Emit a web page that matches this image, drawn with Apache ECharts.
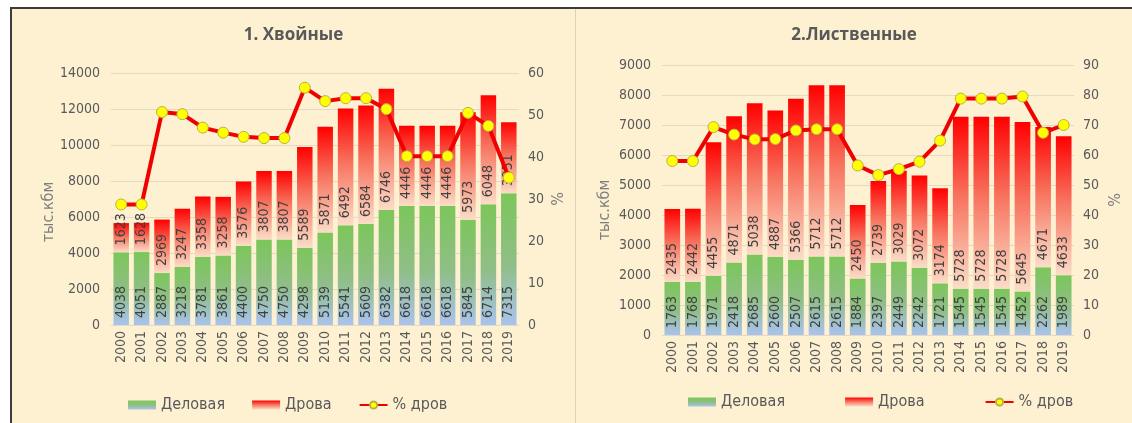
<!DOCTYPE html>
<html>
<head>
<meta charset="utf-8">
<script src="https://cdn.jsdelivr.net/npm/echarts@6/dist/echarts.min.js"></script>
<style>
  html, body { margin: 0; padding: 0; background: #fff; }
  body { width: 1132px; height: 423px; position: relative; overflow: hidden; }
  #frame { position: absolute; left: 10px; top: 7px; right: 0; bottom: 0; background: #FDF1D2;
           border-top: 2px solid #3c3c3c; border-left: 2px solid #3c3c3c; }
  #divider { position: absolute; left: 575px; top: 9px; width: 1px; bottom: 0; background: #DCD2B6; }
  #left { position: absolute; left: 12px; top: 9px; width: 563px; height: 414px; }
  #right { position: absolute; left: 576px; top: 9px; width: 556px; height: 414px; }
</style>
</head>
<body>
<div id="frame"></div>
<div id="divider"></div>
<div id="left"></div>
<div id="right"></div>
<script>
// data, тыс. кбм
const years = ['2000', '2001', '2002', '2003', '2004', '2005', '2006', '2007', '2008', '2009',
               '2010', '2011', '2012', '2013', '2014', '2015', '2016', '2017', '2018', '2019'];

// 1. Хвойные
const conifDelovaya = [4038, 4051, 2887, 3218, 3781, 3861, 4400, 4750, 4750, 4298,
                       5139, 5541, 5609, 6382, 6618, 6618, 6618, 5845, 6714, 7315];
const conifDrova = [1623, 1628, 2969, 3247, 3358, 3258, 3576, 3807, 3807, 5589,
                    5871, 6492, 6584, 6746, 4446, 4446, 4446, 5973, 6048, 3951];
const conifPct = [28.7, 28.7, 50.7, 50.2, 47.0, 45.8, 44.8, 44.5, 44.5, 56.5,
                  53.3, 54.0, 54.0, 51.4, 40.2, 40.2, 40.2, 50.5, 47.4, 35.1];

// 2. Лиственные
const decidDelovaya = [1763, 1768, 1971, 2418, 2685, 2600, 2507, 2615, 2615, 1884,
                       2397, 2449, 2242, 1721, 1545, 1545, 1545, 1452, 2262, 1989];
const decidDrova = [2435, 2442, 4455, 4871, 5038, 4887, 5366, 5712, 5712, 2450,
                    2739, 3029, 3072, 3174, 5728, 5728, 5728, 5645, 4671, 4633];
const decidPct = [58.0, 58.0, 69.3, 66.8, 65.2, 65.3, 68.2, 68.6, 68.6, 56.5,
                  53.3, 55.3, 57.8, 64.8, 78.8, 78.8, 78.8, 79.5, 67.4, 70.0];

const FONT = '"DejaVu Sans Condensed", "Liberation Sans Narrow", "Liberation Sans", sans-serif';
const GREY = '#595959';

function makeOption(c) {
    const barLabel = {
        show: true,
        position: 'insideBottom',
        rotate: 90,
        align: 'left',
        verticalAlign: 'middle',
        distance: 7,
        fontFamily: FONT,
        fontSize: 14,
        color: '#404040'
    };
    return {
        textStyle: { fontFamily: FONT },
        title: {
            text: c.title,
            left: 'center',
            top: 13,
            textStyle: { fontFamily: '"Open Sans", "Liberation Sans", sans-serif', fontSize: 17, fontWeight: 'bold', color: GREY }
        },
        legend: {
            left: c.legendLeft,
            bottom: c.legendBottom,
            itemWidth: 28,
            itemHeight: 9,
            itemGap: c.legendGap,
            textStyle: { fontFamily: FONT, fontSize: 16, color: GREY },
            data: [
                { name: 'Деловая', icon: 'rect' },
                { name: 'Дрова', icon: 'rect' },
                { name: '% дров' }
            ]
        },
        grid: c.grid,
        xAxis: {
            type: 'category',
            data: years,
            axisTick: { show: false },
            axisLine: { show: false },
            axisLabel: { rotate: 90, fontSize: 14, color: GREY, margin: 6, interval: 0 }
        },
        yAxis: [
            {
                type: 'value',
                min: 0,
                max: c.leftMax,
                interval: c.leftStep,
                name: 'тыс.кбм',
                nameLocation: 'middle',
                nameGap: c.leftNameGap,
                nameMoveOverlap: false,
                nameTextStyle: { fontSize: 16, color: '#7f7f7f', padding: [0, c.leftNamePad, 0, 0] },
                axisLabel: { fontSize: 14, color: GREY, margin: 11, formatter: v => String(v) },
                splitLine: { lineStyle: { color: '#E4DAC0' } }
            },
            {
                type: 'value',
                min: 0,
                max: c.rightMax,
                interval: 10,
                name: '%',
                nameLocation: 'middle',
                nameGap: c.rightNameGap,
                nameMoveOverlap: false,
                nameTextStyle: { fontSize: 16, color: '#7f7f7f' },
                axisLabel: { fontSize: 14, color: GREY, margin: c.rightMargin },
                splitLine: { show: false }
            }
        ],
        series: [
            {
                name: 'Деловая',
                type: 'bar',
                stack: 'total',
                barWidth: '76%',
                data: c.delovaya,
                label: barLabel,
                itemStyle: {
                    color: new echarts.graphic.LinearGradient(0, 0, 0, 1, [
                        { offset: 0, color: '#7CC65A' },
                        { offset: 0.55, color: '#90BE88' },
                        { offset: 1, color: '#A9C3EF' }
                    ])
                }
            },
            {
                name: 'Дрова',
                type: 'bar',
                stack: 'total',
                data: c.drova,
                label: barLabel,
                itemStyle: {
                    color: new echarts.graphic.LinearGradient(0, 0, 0, 1, [
                        { offset: 0, color: '#FF0000' },
                        { offset: 0.45, color: '#F7705C' },
                        { offset: 1, color: '#FBDDC8' }
                    ])
                }
            },
            {
                name: '% дров',
                type: 'line',
                yAxisIndex: 1,
                data: c.pct,
                symbol: 'circle',
                symbolSize: 11,
                z: 5,
                lineStyle: { color: '#F00000', width: 4 },
                itemStyle: { color: '#FFFF00', borderColor: '#B8B040', borderWidth: 1 }
            }
        ]
    };
}

const leftChart = echarts.init(document.getElementById('left'));
leftChart.setOption(makeOption({
    title: '1. Хвойные',
    grid: { left: 99, top: 64, width: 422, height: 252 },
    leftMax: 14000, leftStep: 2000, rightMax: 60,
    leftNameGap: 54, leftNamePad: 26, rightNameGap: 32, rightMargin: 9,
    legendLeft: 111, legendBottom: 5, legendGap: 27,
    delovaya: conifDelovaya, drova: conifDrova, pct: conifPct
}));

const rightChart = echarts.init(document.getElementById('right'));
rightChart.setOption(makeOption({
    title: '2.Лиственные',
    grid: { left: 86, top: 56, width: 414, height: 270 },
    leftMax: 9000, leftStep: 1000, rightMax: 90,
    leftNameGap: 49, leftNamePad: 20, rightNameGap: 34, rightMargin: 9,
    legendLeft: 107, legendBottom: 8, legendGap: 60,
    delovaya: decidDelovaya, drova: decidDrova, pct: decidPct
}));
</script>
</body>
</html>
